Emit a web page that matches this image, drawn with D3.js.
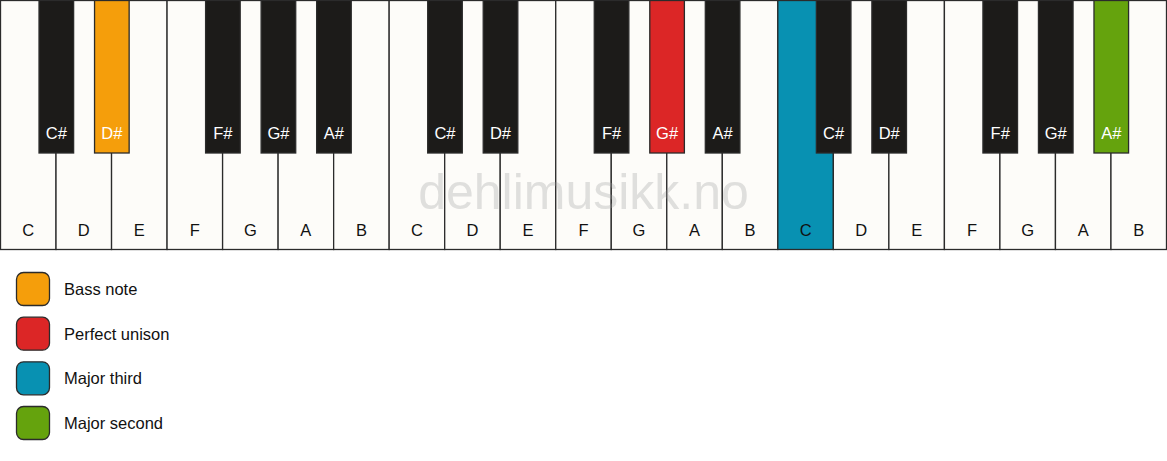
<!DOCTYPE html>
<html>
<head>
<meta charset="utf-8">
<script src="https://cdn.jsdelivr.net/npm/d3@7/dist/d3.min.js"></script>
<style>
  body { margin: 0; background: #fff; }
  text { font-family: "Liberation Sans", Arial, sans-serif; }
</style>
</head>
<body>
<div id="chart"></div>
<script>
// keyboard data
const octaves = [0, 1, 2];
const whiteNames = ["C", "D", "E", "F", "G", "A", "B"];
// black key sits after white key index (within an octave)
const blackNames = [
  { name: "C#", after: 0 },
  { name: "D#", after: 1 },
  { name: "F#", after: 3 },
  { name: "G#", after: 4 },
  { name: "A#", after: 5 }
];
// highlighted notes: octave + name -> interval
const highlights = [
  { octave: 0, name: "D#", role: "Bass note" },
  { octave: 1, name: "G#", role: "Perfect unison" },
  { octave: 2, name: "C", role: "Major third" },
  { octave: 2, name: "A#", role: "Major second" }
];
const legendLabels = ["Bass note", "Perfect unison", "Major third", "Major second"];
const legendColors = ["#f59e0b", "#dc2626", "#0891b2", "#65a30d"];

const W = 1167, H = 461;
const pianoH = 249, blackH = 152.5, blackW = 34.6;

const svg = d3.select("#chart").append("svg")
  .attr("width", W).attr("height", H);

const color = d3.scaleOrdinal().domain(legendLabels).range(legendColors);

const whiteKeys = [];
octaves.forEach(o => whiteNames.forEach((n, i) => whiteKeys.push({ octave: o, name: n, idx: o * 7 + i })));
const blackKeys = [];
octaves.forEach(o => blackNames.forEach(b => blackKeys.push({ octave: o, name: b.name, idx: o * 7 + b.after })));

const roleOf = k => {
  const h = highlights.find(d => d.octave === k.octave && d.name === k.name);
  return h ? h.role : null;
};

const x = d3.scaleLinear().domain([0, whiteKeys.length]).range([0.5, W - 0.5]);

const piano = svg.append("g");

// white keys
piano.selectAll("rect.white").data(whiteKeys).enter().append("rect")
  .attr("class", "white")
  .attr("x", d => x(d.idx))
  .attr("y", 0.5)
  .attr("width", x(1) - x(0))
  .attr("height", pianoH)
  .attr("fill", d => roleOf(d) ? color(roleOf(d)) : "#fdfcf9")
  .attr("stroke", "#2b2b2b")
  .attr("stroke-width", 1.3);

// watermark
piano.append("text")
  .attr("x", W / 2)
  .attr("y", 209)
  .attr("text-anchor", "middle")
  .attr("font-size", 50)
  .attr("fill", "#9a9a9a")
  .attr("fill-opacity", 0.3)
  .text("dehlimusikk.no");

piano.selectAll("text.wlabel").data(whiteKeys).enter().append("text")
  .attr("class", "wlabel")
  .attr("x", d => x(d.idx + 0.5))
  .attr("y", 236)
  .attr("text-anchor", "middle")
  .attr("font-size", 16.5)
  .attr("fill", "#111")
  .text(d => d.name);

// black keys
piano.selectAll("rect.black").data(blackKeys).enter().append("rect")
  .attr("class", "black")
  .attr("x", d => x(d.idx + 1) - blackW / 2 + 0.3)
  .attr("y", 0.5)
  .attr("width", blackW)
  .attr("height", blackH)
  .attr("fill", d => roleOf(d) ? color(roleOf(d)) : "#1c1b19")
  .attr("stroke", "#2b2b2b")
  .attr("stroke-width", 1.3);

piano.selectAll("text.blabel").data(blackKeys).enter().append("text")
  .attr("class", "blabel")
  .attr("x", d => x(d.idx + 1) + 0.3)
  .attr("y", 139)
  .attr("text-anchor", "middle")
  .attr("font-size", 16.5)
  .attr("fill", "#fff")
  .text(d => d.name);

// legend
const ly = d3.scalePoint().domain(legendLabels).range([289, 423]);
const legend = svg.append("g");
legend.selectAll("rect").data(legendLabels).enter().append("rect")
  .attr("x", 16.5)
  .attr("y", d => ly(d) - 16.5)
  .attr("width", 33)
  .attr("height", 33)
  .attr("rx", 7)
  .attr("fill", d => color(d))
  .attr("stroke", "#2b2b2b")
  .attr("stroke-width", 1.3);
legend.selectAll("text").data(legendLabels).enter().append("text")
  .attr("x", 64)
  .attr("y", d => ly(d) + 6)
  .attr("font-size", 16.5)
  .attr("fill", "#111")
  .text(d => d);
</script>
</body>
</html>
